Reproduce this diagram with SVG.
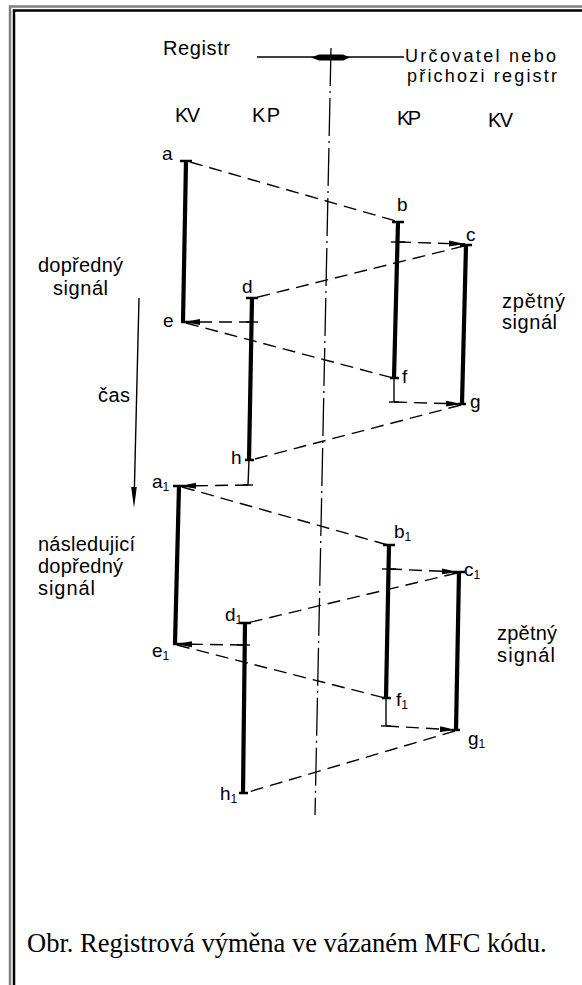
<svg xmlns="http://www.w3.org/2000/svg" width="582" height="985" viewBox="0 0 582 985">
<defs>
<marker id="ah" viewBox="0 0 16 7" refX="16" refY="3.5" markerWidth="16" markerHeight="7" markerUnits="userSpaceOnUse" orient="auto"><path d="M0,0.6 L16,3.5 L0,6.4 z" fill="#000"/></marker>
</defs>
<style>
.t{font-family:"Liberation Sans",Arial,sans-serif;font-size:20px;fill:#000}
.h{font-family:"Liberation Sans",Arial,sans-serif;font-size:18px;fill:#000}
.p{font-family:"Liberation Sans",Arial,sans-serif;font-size:19px;fill:#000}
.sub{font-size:12px}
.cap{font-family:"Liberation Serif","Times New Roman",serif;font-size:26.5px;fill:#000}
.bar{stroke:#000;stroke-width:4.2;fill:none}
.tee{stroke:#000;stroke-width:2.5;fill:none}
.thin{stroke:#000;stroke-width:1.4;fill:none}
.dash{stroke:#000;stroke-width:1.4;fill:none;stroke-dasharray:13 7}
.arr{marker-end:url(#ah)}
.axis{stroke:#000;stroke-width:1.3;fill:none;stroke-dasharray:38 5 2 5}
</style>
<rect width="582" height="985" fill="#fff"/>
<g id="frame">
<path d="M10,985 V6.5 H582" stroke="#7f7f7f" stroke-width="2.5" fill="none"/>
<path d="M14,985 V10.5 H582" stroke="#000" stroke-width="2.5" fill="none"/>
</g>
<g id="header">
<text class="t" x="163" y="55" textLength="67">Registr</text>
<text class="h" x="405" y="62" textLength="151">Určovatel nebo</text>
<text class="h" x="407" y="82" textLength="150">přichozi registr</text>
<line class="thin" x1="257" y1="57" x2="404" y2="57"/>
<polygon points="311,57.5 319,54.5 343,54.5 350,57.5 343,60.5 319,60.5" fill="#000"/>
<text class="t" x="175" y="122" textLength="25">KV</text>
<text class="t" x="252" y="122" textLength="28">KP</text>
<text class="t" x="397" y="125" textLength="24">KP</text>
<text class="t" x="488" y="127" textLength="25">KV</text>
</g>
<g id="axis"><line class="axis" x1="331" y1="48" x2="315" y2="815"/></g>
<g id="side-labels">
<text class="t" x="38" y="272" textLength="85">dopředný</text>
<text class="t" x="53" y="295" textLength="55">signál</text>
<text class="t" x="98" y="402" textLength="32">čas</text>
<line class="thin" x1="139" y1="298" x2="134.3" y2="492"/>
<polygon points="134,508 131.2,487 136.8,487" fill="#000"/>
<text class="t" x="38" y="551" textLength="97">následujicí</text>
<text class="t" x="38" y="573" textLength="85">dopředný</text>
<text class="t" x="38" y="595" textLength="57">signál</text>
<text class="t" x="502" y="308" textLength="63">zpětný</text>
<text class="t" x="502" y="329" textLength="55">signál</text>
<text class="t" x="497" y="640" textLength="60">zpětný</text>
<text class="t" x="497" y="662" textLength="58">signál</text>
</g>
<g id="sig-ae">
<line class="bar" x1="186" y1="161" x2="183" y2="322"/>
<line class="tee" x1="180" y1="161" x2="192" y2="161"/>
<line class="tee" x1="181" y1="322" x2="192" y2="322"/>
</g>
<g id="sig-bf">
<line class="bar" x1="398" y1="222" x2="394" y2="378"/>
<line class="tee" x1="392" y1="222" x2="404" y2="222"/>
<line class="thin" x1="391" y1="242" x2="405" y2="242"/>
<line class="tee" x1="390" y1="378" x2="399" y2="378"/>
<line class="thin" x1="394" y1="378" x2="394" y2="402"/>
<line class="thin" x1="389" y1="402" x2="399" y2="402"/>
</g>
<g id="sig-cg">
<line class="bar" x1="466" y1="245" x2="462" y2="404"/>
<line class="tee" x1="460" y1="245" x2="472" y2="245"/>
<line class="tee" x1="458" y1="404" x2="466" y2="404"/>
</g>
<g id="sig-dh">
<line class="bar" x1="252" y1="298" x2="249" y2="460"/>
<line class="tee" x1="246" y1="298" x2="258" y2="298"/>
<line class="thin" x1="246" y1="322" x2="258" y2="322"/>
<line class="tee" x1="245" y1="460" x2="254" y2="460"/>
<line class="thin" x1="249" y1="460" x2="248" y2="485"/>
<line class="thin" x1="243" y1="485" x2="253" y2="485"/>
</g>
<g id="sig-a1e1">
<line class="bar" x1="179" y1="486" x2="175" y2="644"/>
<line class="tee" x1="173" y1="486" x2="185" y2="486"/>
<line class="tee" x1="173" y1="644" x2="184" y2="644"/>
</g>
<g id="sig-b1f1">
<line class="bar" x1="389" y1="545" x2="386" y2="698"/>
<line class="tee" x1="383" y1="545" x2="395" y2="545"/>
<line class="thin" x1="382" y1="569" x2="396" y2="569"/>
<line class="tee" x1="382" y1="698" x2="391" y2="698"/>
<line class="thin" x1="386" y1="698" x2="386" y2="726"/>
<line class="thin" x1="381" y1="726" x2="391" y2="726"/>
</g>
<g id="sig-c1g1">
<line class="bar" x1="459" y1="572" x2="456" y2="730"/>
<line class="tee" x1="453" y1="572" x2="465" y2="572"/>
<line class="tee" x1="452" y1="730" x2="460" y2="730"/>
</g>
<g id="sig-d1h1">
<line class="bar" x1="245" y1="623" x2="243" y2="793"/>
<line class="tee" x1="239" y1="623" x2="251" y2="623"/>
<line class="thin" x1="237" y1="645" x2="250" y2="645"/>
<line class="tee" x1="239" y1="793" x2="248" y2="793"/>
</g>
<g id="node-labels">
<g id="n-a"><text class="p" x="162" y="160">a</text></g>
<g id="n-b"><text class="p" x="397" y="211">b</text></g>
<g id="n-c"><text class="p" x="466" y="241">c</text></g>
<g id="n-d"><text class="p" x="242" y="293">d</text></g>
<g id="n-e"><text class="p" x="163" y="327">e</text></g>
<g id="n-f"><text class="p" x="402" y="383">f</text></g>
<g id="n-g"><text class="p" x="470" y="408">g</text></g>
<g id="n-h"><text class="p" x="231" y="464">h</text></g>
<g id="n-a1"><text class="p" x="152" y="488">a<tspan class="sub" dy="3">1</tspan></text></g>
<g id="n-b1"><text class="p" x="394" y="538">b<tspan class="sub" dy="3">1</tspan></text></g>
<g id="n-c1"><text class="p" x="464" y="576">c<tspan class="sub" dy="3">1</tspan></text></g>
<g id="n-d1"><text class="p" x="225" y="621">d<tspan class="sub" dy="3">1</tspan></text></g>
<g id="n-e1"><text class="p" x="152" y="657">e<tspan class="sub" dy="3">1</tspan></text></g>
<g id="n-f1"><text class="p" x="396" y="706">f<tspan class="sub" dy="3">1</tspan></text></g>
<g id="n-g1"><text class="p" x="468" y="745">g<tspan class="sub" dy="3">1</tspan></text></g>
<g id="n-h1"><text class="p" x="220" y="800">h<tspan class="sub" dy="3">1</tspan></text></g>
</g>
<g id="connectors">
<line class="dash" x1="190" y1="162" x2="396" y2="221"/>
<line class="dash arr" x1="398" y1="242" x2="465" y2="244"/>
<line class="dash" x1="464" y1="246" x2="254" y2="298"/>
<line class="dash arr" x1="252" y1="322" x2="184" y2="322"/>
<line class="dash" x1="186" y1="323" x2="393" y2="378"/>
<line class="dash arr" x1="394" y1="402" x2="462" y2="404"/>
<line class="dash" x1="461" y1="405" x2="251" y2="460"/>
<line class="dash arr" x1="248" y1="485" x2="180" y2="486"/>
<line class="dash" x1="182" y1="487" x2="388" y2="545"/>
<line class="dash arr" x1="389" y1="569" x2="458" y2="572"/>
<line class="dash" x1="457" y1="573" x2="247" y2="623"/>
<line class="dash arr" x1="243" y1="645" x2="176" y2="644"/>
<line class="dash" x1="177" y1="645" x2="385" y2="698"/>
<line class="dash arr" x1="386" y1="726" x2="456" y2="730"/>
<line class="dash" x1="455" y1="731" x2="245" y2="793"/>
</g>
<g id="caption"><text class="cap" x="27" y="952">Obr. Registrová výměna ve vázaném MFC kódu.</text></g>
</svg>
